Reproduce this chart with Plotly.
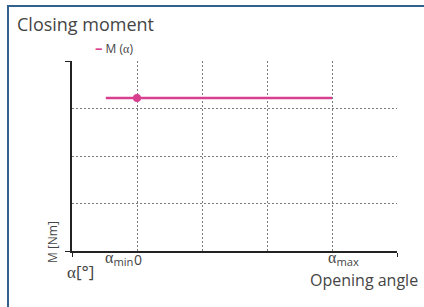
import plotly.graph_objects as go

# ---- data ----
series_name = "M (α)"
alpha_min = -0.48          # position of α_min on the angle axis (grid units)
alpha_zero = 0.0
alpha_max = 3.0
line_x = [alpha_min, alpha_zero, alpha_max]
line_y = [3.22, 3.22, 3.22]
marker_x = [alpha_zero]
marker_y = [3.22]
x_tick_vals = [alpha_min, alpha_zero, alpha_max]
SERIF = "font-family:Liberation Serif"
x_tick_text = [f"<span style='{SERIF}'>α</span><sub>min</sub>", "0",
               f"<span style='{SERIF}'>α</span><sub>max</sub>"]

PINK = "#d8408f"
TXT = "#454545"
FONT = "Open Sans"

fig = go.Figure()
fig.add_trace(go.Scatter(x=line_x, y=line_y, mode="lines",
                         line=dict(color=PINK, width=2.6), showlegend=False,
                         name=series_name))
fig.add_trace(go.Scatter(x=marker_x, y=marker_y, mode="markers",
                         marker=dict(color=PINK, size=8), showlegend=False,
                         name=series_name))

grid = dict(showgrid=True, gridcolor="#7a7a7a", gridwidth=1, griddash="2px,2px")
fig.update_xaxes(range=[-1, 4], tickvals=[-1, 4], ticks="outside", ticklen=4,
                 tickcolor="#222", showticklabels=False, showline=True,
                 linecolor="#222", linewidth=1.5, zeroline=False,
                 minor=dict(dtick=1, tick0=0, ticks="", **grid), **grid)
fig.update_yaxes(range=[0, 4], tickvals=[0, 4], ticks="outside", ticklen=5,
                 tickcolor="#222", showticklabels=False, showline=True,
                 linecolor="#222", linewidth=1.5, zeroline=False,
                 minor=dict(dtick=1, tick0=0, ticks="", **grid), **grid)

W, H = 424, 307
L, R, T, B = 72, 27, 61, 56
pw, ph = W - L - R, H - T - B
def px(x): return (x - L) / pw
def py(y): return (H - B - y) / ph

ann = []
ann.append(dict(text="Closing moment", x=px(15), y=py(24), xref="paper", yref="paper",
                xanchor="left", yanchor="middle", showarrow=False,
                font=dict(family=FONT, size=18, color=TXT)))
ann.append(dict(text="Opening angle", x=px(420), y=py(280), xref="paper", yref="paper",
                xanchor="right", yanchor="middle", showarrow=False,
                font=dict(family=FONT, size=16, color=TXT)))
ann.append(dict(text=f"<span style='color:{PINK};font-size:15px'><b>–</b></span> M (<span style='{SERIF}'>α</span>)",
                x=px(93), y=py(47), xref="paper", yref="paper",
                xanchor="left", yanchor="middle", showarrow=False,
                font=dict(family=FONT, size=12, color=TXT)))
ann.append(dict(text=f"<span style='{SERIF}'>α</span>[°]", x=px(80), y=py(271), xref="paper", yref="paper",
                xanchor="center", yanchor="middle", showarrow=False,
                font=dict(family=FONT, size=17, color=TXT)))
ann.append(dict(text="M [Nm]", x=px(52), y=py(242), xref="paper", yref="paper",
                xanchor="center", yanchor="middle", showarrow=False, textangle=-90,
                font=dict(family=FONT, size=12, color=TXT)))
shifts = [-3, 1, -6]
anchors = ["left", "center", "left"]
sizes = [16, 14, 16]
for v, t, s, a, fs in zip(x_tick_vals, x_tick_text, shifts, anchors, sizes):
    ann.append(dict(text=t, x=v, y=py(259), xref="x", yref="paper",
                    xanchor=a, yanchor="middle", showarrow=False, xshift=s,
                    font=dict(family=FONT, size=fs, color=TXT)))

FRAME = "#32618f"
shapes = [
    dict(type="line", xref="paper", yref="paper", x0=px(8), x1=px(8), y0=py(5), y1=py(307),
         line=dict(color=FRAME, width=2)),
    dict(type="line", xref="paper", yref="paper", x0=px(7), x1=px(424), y0=py(6), y1=py(6),
         line=dict(color=FRAME, width=2)),
]

fig.update_layout(width=W, height=H, margin=dict(l=L, r=R, t=T, b=B),
                  paper_bgcolor="white", plot_bgcolor="white",
                  annotations=ann, shapes=shapes, showlegend=False)

fig.write_html("out.html", config={"displayModeBar": False},
               post_script=("var s=document.createElement('style');"
                            "s.textContent='html,body{margin:0;padding:0;overflow:hidden;}"
                            "::-webkit-scrollbar{display:none;width:0;height:0;}';"
                            "document.head.appendChild(s);"))
